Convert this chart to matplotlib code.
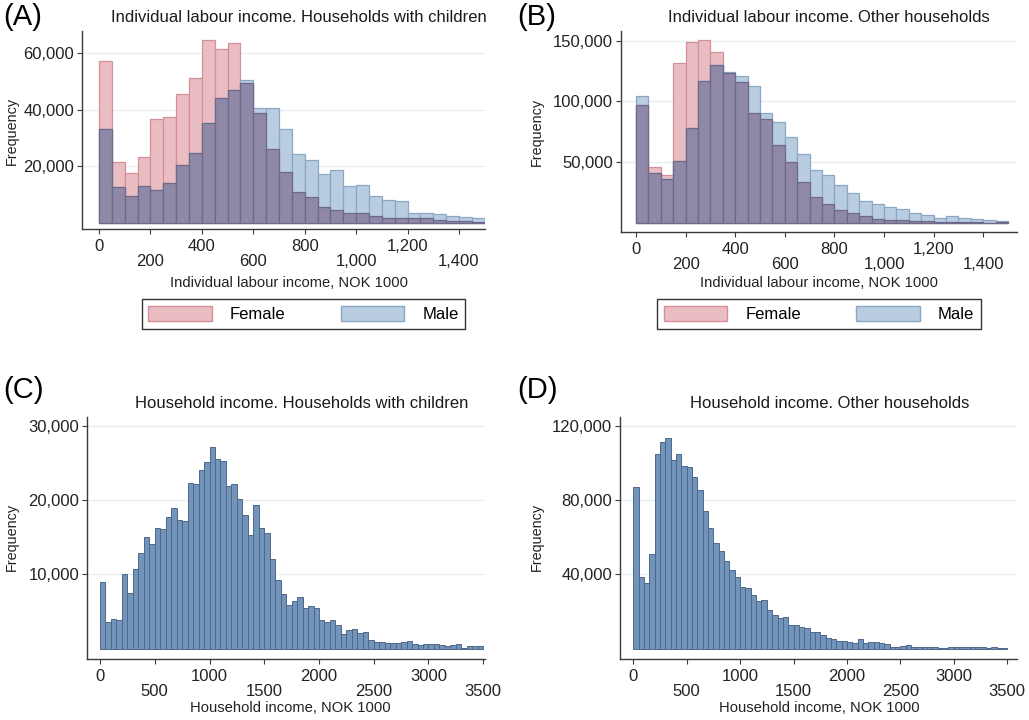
import matplotlib
matplotlib.use('Agg')
import matplotlib.pyplot as plt
from matplotlib.patches import Patch
import numpy as np

plt.rcParams['font.family'] = ['Liberation Sans', 'DejaVu Sans']

W, H = 1029, 720

# bin widths (NOK 1000)
BIN_IND = 50
BIN_HH = 50

# (A) individual labour income, households with children, 30 bins of 50
female_kids = [57000, 21500, 17700, 23200, 36800, 37300, 45400, 51000, 64500, 61200,
               63600, 49400, 38900, 26000, 17900, 10800, 9000, 5700, 4500, 3700,
               3700, 2500, 1900, 1700, 1600, 1600, 1100, 800, 650, 400]
male_kids = [33200, 12600, 9600, 13200, 11600, 14200, 20600, 24600, 35200, 44100,
             47000, 50600, 40700, 40700, 33200, 24400, 22200, 17300, 18800, 12900,
             13500, 9600, 8100, 7700, 3500, 3500, 3100, 2500, 2200, 1900]

# (B) individual labour income, other households
female_other = [96800, 45900, 39800, 131800, 149200, 150500, 140600, 123500, 116100, 90500,
                85300, 64600, 50000, 34000, 21600, 16100, 10600, 8100, 5900, 3700,
                2600, 2300, 1800, 1500, 1200, 1200, 1000, 700, 400, 700]
male_other = [104300, 40900, 36200, 51400, 78100, 116700, 129900, 124400, 121100, 112500,
              90500, 83100, 70700, 56900, 43700, 39500, 31500, 24400, 18300, 16100,
              13400, 12000, 7900, 6500, 4000, 5900, 4600, 3700, 2600, 1800]

# (C) household income, households with children, 70 bins of 50
hh_kids = [9000, 3550, 3990, 3850, 10090, 7530, 10700, 12900, 14960, 14090,
           16290, 16060, 17680, 18980, 17340, 17230, 22260, 22170, 24100, 25180,
           27080, 25510, 25290, 21920, 22100, 20130, 18040, 15300, 19300, 16200,
           15620, 12110, 9290, 7330, 5820, 6460, 6880, 5400, 5760, 5470,
           3800, 3630, 3850, 3240, 1970, 2510, 2600, 2060, 2200, 1170,
           900, 940, 760, 810, 760, 900, 1030, 580, 490, 580,
           630, 630, 490, 400, 490, 670, 50, 360, 360, 330]

# (D) household income, other households
hh_other = [87200, 38600, 35600, 50900, 104700, 111500, 113400, 101800, 104800, 98500,
            98000, 92600, 85400, 74300, 65000, 56700, 52500, 47400, 42300, 38400,
            33400, 32500, 28800, 25900, 26200, 20800, 18100, 16400, 17300, 12500,
            12600, 11700, 11300, 8900, 9000, 7200, 5500, 5200, 4400, 4000,
            3500, 3300, 5300, 3000, 3400, 3400, 3200, 2300, 1100, 800,
            1400, 2100, 720, 720, 720, 900, 900, 540, 540, 900,
            720, 720, 720, 1080, 900, 720, 540, 720, 540, 360]

ind_ticks = [0, 200, 400, 600, 800, 1000, 1200, 1400]
hh_ticks = [0, 500, 1000, 1500, 2000, 2500, 3000, 3500]

PINK = '#eabdc2'
PINK_EDGE = '#d4909a'
BLUE = '#b9cde0'
BLUE_EDGE = '#8aa7c4'
MIX = '#8f89a7'
MIX_EDGE = '#6e688a'
HH_FACE = '#7394ba'
HH_EDGE = '#4d6889'
GRID = '#e8eff2'
AXC = '#3a3a3a'


def px_rect(l, b, r, t):
    return [l / W, 1 - b / H, (r - l) / W, (b - t) / H]


def style_axes(ax, xticks, xfmt, yticks):
    for s in ['top', 'right']:
        ax.spines[s].set_visible(False)
    for s in ['left', 'bottom']:
        ax.spines[s].set_color(AXC)
        ax.spines[s].set_linewidth(1.0)
    labels = []
    for i, t in enumerate(xticks):
        txt = xfmt(t)
        labels.append(txt if i % 2 == 0 else '\n' + txt)
    ax.set_xticks(xticks, labels)
    ax.set_yticks(yticks, ['{:,}'.format(v) for v in yticks])
    ax.tick_params(axis='both', colors=AXC, labelcolor='#222222', length=3.8,
                   width=0.8, labelsize=12)
    ax.tick_params(axis='x', pad=3.5)
    ax.tick_params(axis='y', pad=2)
    for lab in ax.get_xticklabels():
        lab.set_linespacing(1.0)
    ax.grid(axis='y', color=GRID, linewidth=1.0)
    ax.set_axisbelow(True)


def draw_overlap(ax, female, male, width):
    edges = np.arange(len(female)) * width
    low = np.minimum(female, male)
    ax.bar(edges, female, width=width, align='edge', color=PINK,
           edgecolor=PINK_EDGE, linewidth=0.9)
    ax.bar(edges, male, width=width, align='edge', color=BLUE,
           edgecolor=BLUE_EDGE, linewidth=0.9)
    ax.bar(edges, low, width=width, align='edge', color=MIX,
           edgecolor=MIX_EDGE, linewidth=0.9)


def draw_hist(ax, values, width):
    edges = np.arange(len(values)) * width
    ax.bar(edges, values, width=width, align='edge', color=HH_FACE,
           edgecolor=HH_EDGE, linewidth=0.7)


def add_labels(fig, ax, letter, letter_xy, title, title_xy, xlabel, xlabel_xy, ylabel_xy):
    fig.text(letter_xy[0] / W, 1 - letter_xy[1] / H, letter, fontsize=21,
             ha='left', va='center')
    fig.text(title_xy[0] / W, 1 - title_xy[1] / H, title, fontsize=12,
             ha='center', va='center', color='#1a1a1a')
    ax.set_xlabel(xlabel, fontsize=10.6, va='center', color='#222222')
    ax.xaxis.set_label_coords(xlabel_xy[0] / W, 1 - xlabel_xy[1] / H,
                              transform=fig.transFigure)
    ax.set_ylabel('Frequency', fontsize=10.4, va='center', ha='center', color='#222222')
    ax.yaxis.set_label_coords(ylabel_xy[0] / W, 1 - ylabel_xy[1] / H,
                              transform=fig.transFigure)


def add_legend(fig, center):
    handles = [Patch(facecolor=PINK, edgecolor=PINK_EDGE, label='Female'),
               Patch(facecolor=BLUE, edgecolor=BLUE_EDGE, label='Male')]
    leg = fig.legend(handles=handles, loc='center',
                     bbox_to_anchor=(center[0] / W, 1 - center[1] / H),
                     ncol=2, fontsize=12, frameon=True, fancybox=False,
                     edgecolor='black', handlelength=3.8, handleheight=1.05,
                     columnspacing=3.3, handletextpad=1.1, borderpad=0.4,
                     borderaxespad=0)
    leg.get_frame().set_linewidth(1.0)


fig = plt.figure(figsize=(W / 100, H / 100), dpi=100)

with_comma = lambda v: '{:,}'.format(v)
plain = lambda v: str(v)

# (A)
ax = fig.add_axes(px_rect(82.3, 229.3, 484.7, 30.7))
draw_overlap(ax, female_kids, male_kids, BIN_IND)
ax.set_xlim(-65, 1500)
ax.set_ylim(-2220, 67830)
style_axes(ax, ind_ticks, with_comma, [20000, 40000, 60000])
add_labels(fig, ax, '(A)', (3, 17), 'Individual labour income. Households with children',
           (299, 17), 'Individual labour income, NOK 1000', (289, 283), (12, 131))
add_legend(fig, (303.5, 314))

# (B)
ax = fig.add_axes(px_rect(620.7, 231.7, 1016.7, 30.7))
draw_overlap(ax, female_other, male_other, BIN_IND)
ax.set_xlim(-62, 1535)
ax.set_ylim(-7070, 158220)
style_axes(ax, ind_ticks, with_comma, [50000, 100000, 150000])
add_labels(fig, ax, '(B)', (517, 17), 'Individual labour income. Other households',
           (829, 17), 'Individual labour income, NOK 1000', (819, 283), (537, 132))
add_legend(fig, (819, 314))

# (C)
ax = fig.add_axes(px_rect(87.3, 659, 485, 416.7))
draw_hist(ax, hh_kids, BIN_HH)
ax.set_xlim(-116, 3516)
ax.set_ylim(-1400, 31210)
style_axes(ax, hh_ticks, plain, [10000, 20000, 30000])
add_labels(fig, ax, '(C)', (3, 390), 'Household income. Households with children',
           (302, 403), 'Household income, NOK 1000', (290, 708), (12, 537))

# (D)
ax = fig.add_axes(px_rect(620, 659, 1017.3, 416.7))
draw_hist(ax, hh_other, BIN_HH)
ax.set_xlim(-124, 3594)
ax.set_ylim(-5545, 124900)
style_axes(ax, hh_ticks, plain, [40000, 80000, 120000])
add_labels(fig, ax, '(D)', (517, 390), 'Household income. Other households',
           (830, 403), 'Household income, NOK 1000', (819, 708), (537, 537))

fig.savefig('out.png', dpi=100)
